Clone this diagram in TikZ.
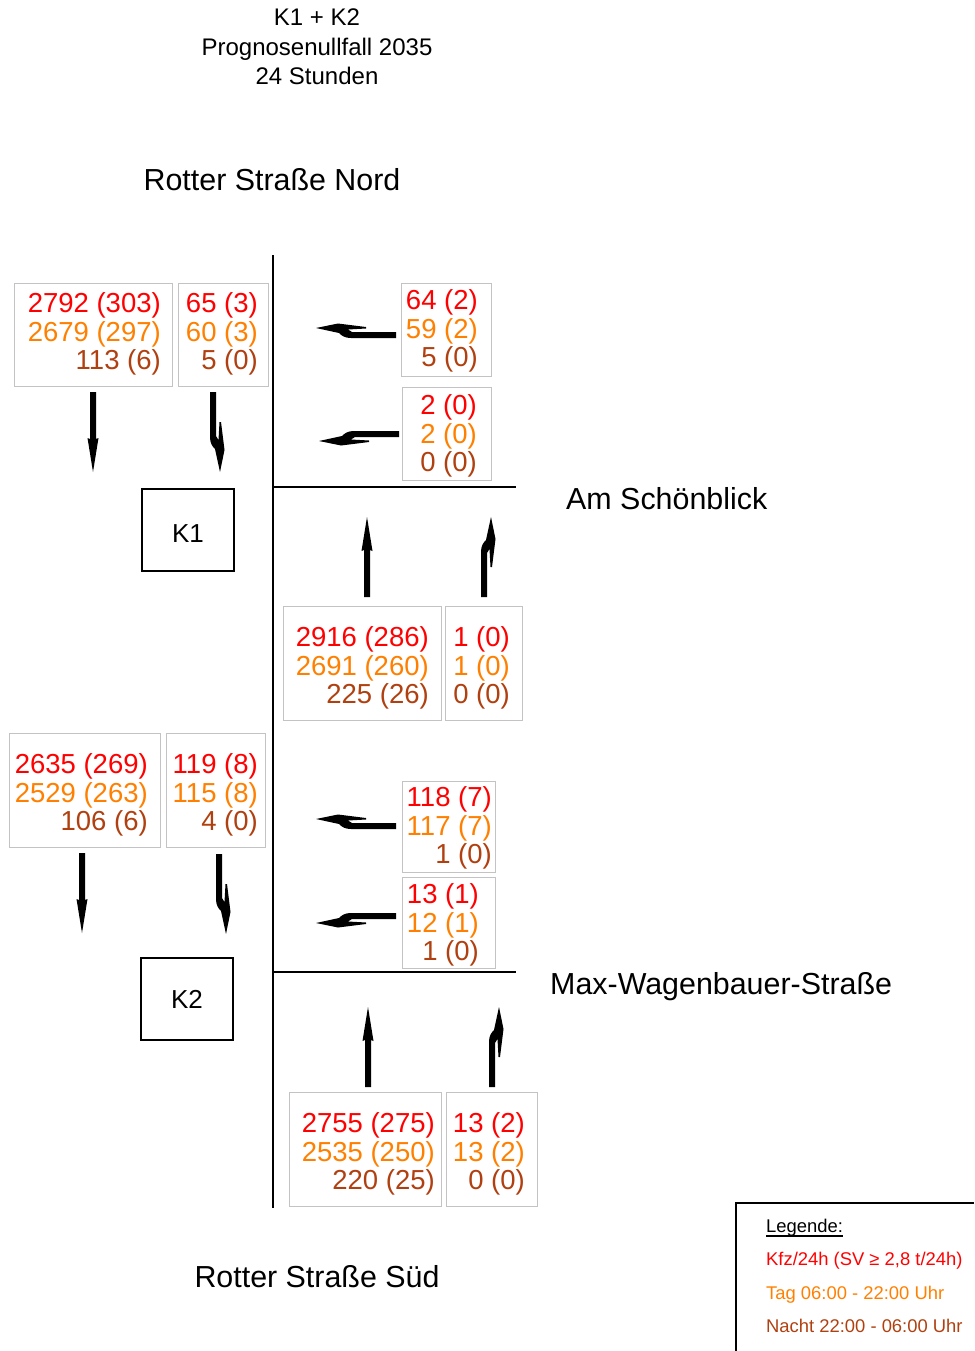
\documentclass[tikz,border=0pt]{standalone}
\usepackage{fontspec}
\setmainfont{Liberation Sans}
\usetikzlibrary{fit}

\definecolor{kfz}{RGB}{255,0,0}
\definecolor{tag}{RGB}{255,128,0}
\definecolor{nacht}{RGB}{176,64,16}
\definecolor{boxgray}{RGB}{195,195,195}

% three traffic counts: total, day, night
\newcommand{\cnt}[3]{\textcolor{kfz}{#1}\\\textcolor{tag}{#2}\\\textcolor{nacht}{#3}}
% heavy underline for the legend heading
\newcommand{\heavyul}[1]{\setbox0\hbox{#1}\rlap{\rule[-5pt]{\wd0}{2pt}}\box0}

% lane markings, drawn along local +x (forward), offset towards local +y
\newcommand{\straightmark}[1]{%
  \begin{scope}[#1]
    \fill (0,-3) -- (47,-3) -- (46,-5.5) -- (80,0) -- (46,5.5) -- (47,3) -- (0,3) -- cycle;
  \end{scope}}
\newcommand{\kinkmark}[1]{%
  \begin{scope}[#1]
    \fill (0,-3) -- (45,-3) .. controls (51,-3) and (54,-1) .. (57,2) -- (80,7)
      -- (58,11.5) -- (30,8) -- (30,6.5) -- (48,5.5) -- (44,3) -- (0,3) -- cycle;
  \end{scope}}

\tikzset{
  countbox/.style={draw=boxgray, line width=1pt, inner sep=0pt},
  counttext/.style={anchor=east, align=right, inner sep=0pt, font=\fontsize{27.5}{28.6}\selectfont},
  road/.style={line width=2pt},
  kbox/.style={draw, line width=2pt, minimum width=92pt, minimum height=82pt, inner sep=0pt,
    font=\fontsize{26}{30}\selectfont},
  street/.style={font=\fontsize{30.4}{34}\selectfont, inner sep=0pt},
  legend/.style={anchor=west, inner sep=0pt, font=\fontsize{18.4}{22}\selectfont},
}

\begin{document}
\begin{tikzpicture}[x=1pt, y=-1pt]
\useasboundingbox (0,0) rectangle (974,1351);

% heading
\node[align=center, inner sep=0pt, font=\fontsize{24}{29.5}\selectfont] (title) at (317,47)
  {K1 + K2\\Prognosenullfall 2035\\24 Stunden};

% street names
\node[street] (nord) at (272,180) {Rotter Straße Nord};
\node[street, anchor=west] (schoen) at (566,499) {Am Schönblick};
\node[street, anchor=west] (maxw) at (550,987) {Max-Wagenbauer-Straße};
\node[street] (sued) at (317,1277) {Rotter Straße Süd};

% road edges
\coordinate (rn) at (273,255);
\coordinate (rs) at (273,1208);
\coordinate (j1) at (273,487);
\coordinate (j1e) at (516,487);
\coordinate (j2) at (273,972);
\coordinate (j2e) at (516,972);
\draw[road] (rn) -- (rs);
\draw[road] (j1) -- (j1e);
\draw[road] (j2) -- (j2e);

% junctions
\node[kbox, text height=25pt] (k1) at (188,530) {K1};
\node[kbox] (k2) at (187,999) {K2};

% count boxes
\node[countbox, fit={(14,283) (172,386)}] (a1) {};
\node[counttext] (a1t) at (161,334) {\cnt{2792 (303)}{2679 (297)}{113 (6)}};
\node[countbox, fit={(178,283) (268,386)}] (a2) {};
\node[counttext] (a2t) at (258,334) {\cnt{65 (3)}{60 (3)}{5 (0)}};

\node[countbox, fit={(401,283) (491,376)}] (b1) {};
\node[counttext] (b1t) at (478,331) {\cnt{64 (2)}{59 (2)}{5 (0)}};
\node[countbox, fit={(402,387) (491,480)}] (b2) {};
\node[counttext] (b2t) at (477,436) {\cnt{2 (0)}{2 (0)}{0 (0)}};

\node[countbox, fit={(283,606) (441,720)}] (c1) {};
\node[counttext] (c1t) at (429,668) {\cnt{2916 (286)}{2691 (260)}{225 (26)}};
\node[countbox, fit={(445,606) (522,720)}] (c2) {};
\node[counttext] (c2t) at (510,668) {\cnt{1 (0)}{1 (0)}{0 (0)}};

\node[countbox, fit={(9,733) (160,847)}] (d1) {};
\node[counttext] (d1t) at (148,795) {\cnt{2635 (269)}{2529 (263)}{106 (6)}};
\node[countbox, fit={(166,733) (265,847)}] (d2) {};
\node[counttext] (d2t) at (258,795) {\cnt{119 (8)}{115 (8)}{4 (0)}};

\node[countbox, fit={(402,781) (495,872)}] (e1) {};
\node[counttext] (e1t) at (492,828) {\cnt{118 (7)}{117 (7)}{1 (0)}};
\node[countbox, fit={(402,877) (495,968)}] (e2) {};
\node[counttext] (e2t) at (479,925) {\cnt{13 (1)}{12 (1)}{1 (0)}};

\node[countbox, fit={(289,1092) (441,1206)}] (f1) {};
\node[counttext] (f1t) at (435,1154) {\cnt{2755 (275)}{2535 (250)}{220 (25)}};
\node[countbox, fit={(446,1092) (537,1206)}] (f2) {};
\node[counttext] (f2t) at (525,1154) {\cnt{13 (2)}{13 (2)}{0 (0)}};

% lane arrows
\straightmark{shift={(93,392)}, rotate=-90}
\kinkmark{shift={(213,392)}, rotate=-90, yscale=-1}
\kinkmark{shift={(396,335)}, rotate=180}
\kinkmark{shift={(399,434)}, rotate=180, yscale=-1}
\straightmark{shift={(367,597)}, rotate=90}
\kinkmark{shift={(484,597)}, rotate=90}
\straightmark{shift={(82,853)}, rotate=-90}
\kinkmark{shift={(219,854)}, rotate=-90, yscale=-1}
\kinkmark{shift={(396,826)}, rotate=180}
\kinkmark{shift={(396,916)}, rotate=180, yscale=-1}
\straightmark{shift={(368,1087)}, rotate=90}
\kinkmark{shift={(492,1087)}, rotate=90}

% legend
\coordinate (lgc) at (736,1203);
\coordinate (lgr) at (974,1203);
\coordinate (lgb) at (736,1351);
\draw[line width=2pt] (lgr) -- (lgc) -- (lgb);
\node[legend] (lg0) at (766,1228) {\heavyul{Legende:}};
\node[legend, text=kfz] (lg1) at (766,1261) {Kfz/24h (SV ≥ 2,8 t/24h)};
\node[legend, text=tag] (lg2) at (766,1295) {Tag 06:00 - 22:00 Uhr};
\node[legend, text=nacht] (lg3) at (766,1326) {Nacht 22:00 - 06:00 Uhr};
\end{tikzpicture}
\end{document}
